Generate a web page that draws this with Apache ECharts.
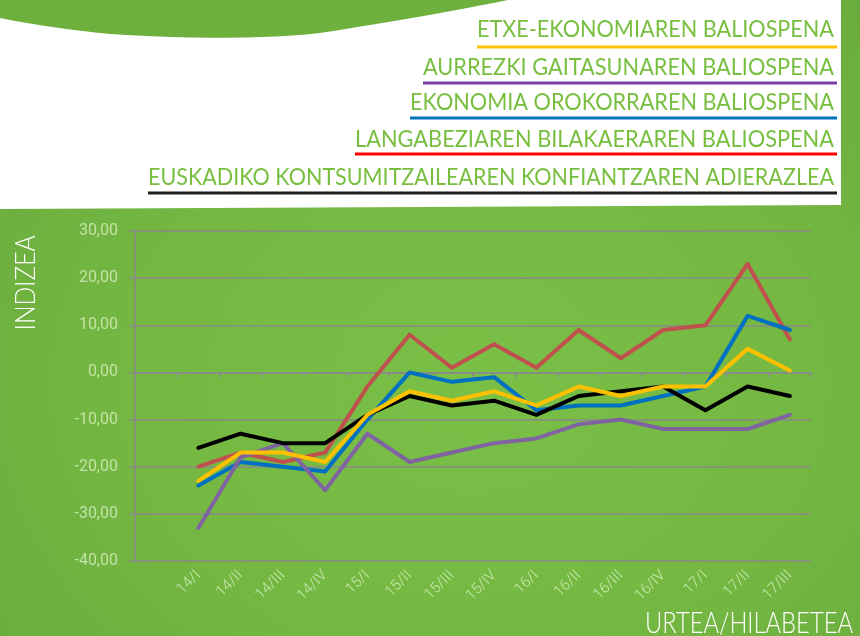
<!DOCTYPE html>
<html>
<head>
<meta charset="utf-8">
<script src="https://cdn.jsdelivr.net/npm/echarts@6/dist/echarts.min.js"></script>
<style>
    html, body { margin: 0; padding: 0; }
    body {
        width: 860px; height: 636px; overflow: hidden;
        background: radial-gradient(ellipse at 55% 60%, #7abf46 0%, #75b943 45%, #69a93c 100%);
    }
    #main { width: 860px; height: 636px; }
</style>
</head>
<body>
<div id="main"></div>
<script>
// urtea/hiruhilekoa
var categories = ['14/I', '14/II', '14/III', '14/IV', '15/I', '15/II', '15/III', '15/IV',
    '16/I', '16/II', '16/III', '16/IV', '17/I', '17/II', '17/III'];

var etxeEkonomia = [-23, -17, -17, -19, -9, -4, -6, -4, -7, -3, -5, -3, -3, 5, 0.4];
var aurrezkiGaitasuna = [-33, -18, -15, -25, -13, -19, -17, -15, -14, -11, -10, -12, -12, -12, -9];
var ekonomiaOrokorra = [-24, -19, -20, -21, -10, 0, -2, -1, -8, -7, -7, -5, -3, 12, 9];
var langabezia = [-20, -17, -19, -17, -3, 8, 1, 6, 1, 9, 3, 9, 10, 23, 7];
var kontsumitzaileak = [-16, -13, -15, -15, -9, -5, -7, -6, -9, -5, -4, -3, -8, -3, -5];

var seriesNames = [
    'ETXE-EKONOMIAREN BALIOSPENA',
    'AURREZKI GAITASUNAREN BALIOSPENA',
    'EKONOMIA OROKORRAREN BALIOSPENA',
    'LANGABEZIAREN BILAKAERAREN BALIOSPENA',
    'EUSKADIKO KONTSUMITZAILEAREN KONFIANTZAREN ADIERAZLEA'
];

window.addEventListener('load', function() {
    var chart = echarts.init(document.getElementById('main'), null, { renderer: 'canvas' });

    var ctx = document.createElement('canvas').getContext('2d');
    function textWidth(str, font) {
        ctx.font = font;
        return ctx.measureText(str).width;
    }
    // bezier kurbatik puntuak
    function quad(p0, p1, p2, n) {
        var pts = [];
        for (var i = 1; i <= n; i++) {
            var t = i / n, u = 1 - t;
            pts.push([u * u * p0[0] + 2 * u * t * p1[0] + t * t * p2[0],
                      u * u * p0[1] + 2 * u * t * p1[1] + t * t * p2[1]]);
        }
        return pts;
    }

    var titleFont = 'Lato';
    var xCats = [''].concat(categories);   // lehen tartea hutsik
    function pad(arr) { return [null].concat(arr); }

    /* leyenda: testua + azpimarra */
    var legendRows = [
        { cy: 29, ly: 47, left: 477, lineColor: '#ffc000' },
        { cy: 67, ly: 83, left: 423, lineColor: '#7a3fa3' },
        { cy: 102, ly: 118, left: 410, lineColor: '#0070c0' },
        { cy: 139, ly: 154, left: 355, lineColor: '#ff0000' },
        { cy: 177, ly: 193, left: 148, lineColor: '#231f20' }
    ];
    var graphics = [];
    graphics.push({
        type: 'polygon', z: -10, silent: true,
        shape: { points: [[0, 0], [841, 0], [841, 205], [0, 209]] },
        style: { fill: '#ffffff' }
    });
    var blob = [[0, 0], [508, 0]]
        .concat(quad([508, 0], [430, 16], [320, 33], 12))
        .concat(quad([320, 33], [240, 42], [110, 34], 12))
        .concat(quad([110, 34], [50, 28], [0, 18], 8));
    graphics.push({
        type: 'polygon', z: -9, silent: true,
        shape: { points: blob },
        style: { fill: '#6db03d' }
    });
    var legendSize = 24;
    var legendFont = legendSize + 'px ' + titleFont;
    legendRows.forEach(function(r, i) {
        var w = textWidth(seriesNames[i], legendFont);
        var target = 834 - r.left;
        graphics.push({
            type: 'text', x: 834, y: r.cy, scaleX: target / w, silent: true,
            style: {
                text: seriesNames[i], fill: '#78bf40', align: 'right', verticalAlign: 'middle',
                font: legendFont
            }
        });
        graphics.push({
            type: 'rect', silent: true,
            shape: { x: r.left, y: r.ly - 1.5, width: 837 - r.left, height: 3 },
            style: { fill: r.lineColor }
        });
    });
    var nameFont = '300 28px ' + titleFont;
    var yName = 'INDIZEA';
    var yw = textWidth(yName, nameFont);
    graphics.push({
        type: 'text', x: 26, y: 283, rotation: Math.PI / 2, scaleX: 95 / yw, silent: true,
        style: { text: yName, fill: '#ffffff', align: 'center', verticalAlign: 'middle', font: nameFont }
    });
    var xName = 'URTEA/HILABETEA';
    var xNameFont = '300 29px ' + titleFont;
    var xw = textWidth(xName, xNameFont);
    graphics.push({
        type: 'text', x: 853, y: 624, scaleX: 208 / xw, silent: true,
        style: { text: xName, fill: '#ffffff', align: 'right', verticalAlign: 'middle', font: xNameFont }
    });

    var lineSeries = [
        { data: langabezia, color: '#c0504d' },
        { data: ekonomiaOrokorra, color: '#0070c0' },
        { data: aurrezkiGaitasuna, color: '#8064a2' },
        { data: kontsumitzaileak, color: '#000000' },
        { data: etxeEkonomia, color: '#ffc000' }
    ];
    var nameIdx = [3, 2, 1, 4, 0];

    chart.setOption({
        animation: false,
        backgroundColor: 'transparent',
        graphic: graphics,
        grid: { left: 135, right: 49, top: 231, bottom: 75 },
        xAxis: [{
            type: 'category',
            data: xCats,
            boundaryGap: true,
            axisLine: { show: false, onZero: false },
            axisTick: { show: false },
            axisLabel: {
                interval: 0, rotate: 45, margin: 12,
                color: '#cae8ae', fontSize: 15, fontFamily: 'Roboto', fontWeight: 300
            },
            splitLine: { show: false }
        }, {
            type: 'category',
            position: 'bottom',
            data: xCats,
            boundaryGap: true,
            axisLine: { show: true, onZero: true, lineStyle: { color: '#8a8a8a', width: 1.5 } },
            axisTick: { show: true, interval: 0, length: 5, lineStyle: { color: '#8a8a8a', width: 1.5 } },
            axisLabel: { show: false },
            splitLine: { show: false }
        }],
        yAxis: {
            type: 'value',
            min: -40, max: 30, interval: 10,
            axisLine: { show: true, lineStyle: { color: '#8a8a8a', width: 1.5 } },
            axisTick: { show: true, length: 6, lineStyle: { color: '#8a8a8a', width: 1.5 } },
            axisLabel: {
                margin: 17, color: '#c3e3a6', fontSize: 16, fontFamily: 'Roboto',
                formatter: function(v) { return v.toFixed(2).replace('.', ','); }
            },
            splitLine: { show: true, lineStyle: { color: '#8a8a8a', width: 1.5 } }
        },
        series: lineSeries.map(function(s, i) {
            return {
                name: seriesNames[nameIdx[i]],
                type: 'line',
                xAxisIndex: 0,
                data: pad(s.data),
                symbol: 'none',
                connectNulls: false,
                lineStyle: { color: s.color, width: 4, join: 'round', cap: 'round' },
                itemStyle: { color: s.color }
            };
        })
    });
});
</script>
</body>
</html>
